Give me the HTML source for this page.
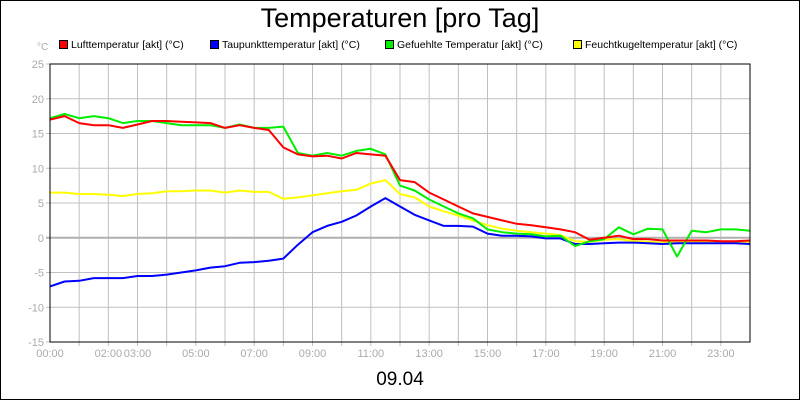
<!DOCTYPE html>
<html><head><meta charset="utf-8"><style>
body{margin:0;background:#fff}
svg{display:block;font-family:"Liberation Sans",sans-serif}
</style></head><body>
<svg id="chart" width="800" height="400" viewBox="0 0 800 400">
<rect x="0.5" y="0.5" width="799" height="399" fill="#fff" stroke="#000"/>
<text x="400" y="27" font-size="27" text-anchor="middle">Temperaturen [pro Tag]</text>
<text x="37" y="50" font-size="10" fill="#aaa">°C</text>
<g id="grid"></g>
<g id="series"></g>
<rect x="50" y="64" width="700" height="278" fill="none" stroke="#000"/>
<g id="legend"></g>
<text x="400" y="385" font-size="19" text-anchor="middle">09.04</text>
</svg>
<script>
const hours = [];
for (let i = 0; i <= 48; i++) hours.push(i * 0.5);
const luft = [17,17.5,16.5,16.2,16.2,15.8,16.3,16.8,16.8,16.7,16.6,16.5,15.8,16.2,15.8,15.5,13,12,11.7,11.8,11.4,12.2,12,11.8,8.3,8,6.5,5.5,4.5,3.5,3,2.5,2,1.8,1.5,1.2,0.8,-0.3,0,0.3,-0.2,-0.2,-0.4,-0.4,-0.4,-0.4,-0.5,-0.5,-0.4];
const taupunkt = [-7,-6.3,-6.2,-5.8,-5.8,-5.8,-5.5,-5.5,-5.3,-5,-4.7,-4.3,-4.1,-3.6,-3.5,-3.3,-3,-1,0.8,1.7,2.3,3.2,4.5,5.7,4.5,3.3,2.5,1.7,1.7,1.6,0.6,0.3,0.3,0.2,-0.1,-0.1,-0.9,-0.9,-0.8,-0.7,-0.7,-0.8,-0.9,-2.7,-0.8,-0.8,-0.8,-0.8,-0.9];
taupunkt[43] = -0.8;
const gefuehlt = [17.2,17.8,17.2,17.5,17.2,16.5,16.8,16.8,16.5,16.2,16.2,16.2,15.8,16.3,15.8,15.8,16,12.2,11.8,12.2,11.8,12.5,12.8,12,7.5,6.8,5.5,4.5,3.5,2.8,1.2,0.8,0.6,0.5,0.2,0.3,-1.2,-0.5,-0.2,1.5,0.5,1.3,1.2,-2.7,1,0.8,1.2,1.2,1];
const feuchtkugel = [6.5,6.5,6.3,6.3,6.2,6,6.3,6.4,6.7,6.7,6.8,6.8,6.5,6.8,6.6,6.6,5.6,5.8,6.1,6.4,6.7,6.9,7.8,8.3,6.3,5.8,4.5,3.8,3.2,2.5,1.8,1.3,1,0.8,0.6,0.4,-0.5,-0.6,-0.3,-0.2,-0.5,-0.6,-0.7,-0.7,-0.6,-0.6,-0.6,-0.6,-0.6];
const yTicks = [25,20,15,10,5,0,-5,-10,-15];
const xTickHours = [0,2,3,5,7,9,11,13,15,17,19,21,23];
const xTickLabels = ["00:00","02:00","03:00","05:00","07:00","09:00","11:00","13:00","15:00","17:00","19:00","21:00","23:00"];
const seriesNames = ["Lufttemperatur [akt] (°C)","Taupunkttemperatur [akt] (°C)","Gefuehlte Temperatur [akt] (°C)","Feuchtkugeltemperatur [akt] (°C)"];
const seriesColors = ["#ff0000","#0000ff","#00ee00","#ffff00"];

const X0=50,X1=750,Y0=64,Y1=342,NS="http://www.w3.org/2000/svg";
const xs = h => X0 + (h/24)*(X1-X0);
const ys = v => Y0 + (25 - v)/40*(Y1-Y0);
function mk(tag, attrs, parent){const e=document.createElementNS(NS,tag);for(const k in attrs)e.setAttribute(k,attrs[k]);parent.appendChild(e);return e;}
const grid=document.getElementById('grid');
for(let h=1;h<24;h++){
  const l=mk('line',{x1:xs(h),x2:xs(h),y1:Y0,y2:Y1+4,stroke:'#c0c0c0'},grid);
  
  
}
yTicks.forEach(v=>{
  const l=mk('line',{x1:X0-4,x2:X1,y1:ys(v),y2:ys(v),stroke:v===0?'#b0b0b0':'#c0c0c0','stroke-width':v===0?2:1},grid);
  
  
  const t=mk('text',{x:X0-6,y:ys(v)+4,'font-size':11,fill:'#aaa','text-anchor':'end'},grid);
  t.textContent=v;
  
  
});
xTickHours.forEach((h,i)=>{
  const t=mk('text',{x:xs(h),y:Y1+15,'font-size':11,fill:'#aaa','text-anchor':'middle'},grid);
  t.textContent=xTickLabels[i];
  
  
});
const sg=document.getElementById('series');
[[feuchtkugel,3],[taupunkt,1],[gefuehlt,2],[luft,0]].forEach(([arr,ci])=>{
  const d=arr.map((v,i)=>(i?'L':'M')+xs(hours[i]).toFixed(1)+','+ys(v).toFixed(1)).join(' ');
  const p=mk('path',{d:d,fill:'none',stroke:seriesColors[ci],'stroke-width':2,'stroke-linejoin':'round'},sg);
  
  
});
const lg=document.getElementById('legend');
const lx=[59,210,385,573];
seriesNames.forEach((n,i)=>{
  const r=mk('rect',{x:lx[i]+0.5,y:40.5,width:8,height:8,fill:seriesColors[i],stroke:'#000'},lg);
  
  
  const t=mk('text',{x:lx[i]+12,y:48,'font-size':10.5},lg);
  t.textContent=n;
  
  
});
</script>
</body></html>
